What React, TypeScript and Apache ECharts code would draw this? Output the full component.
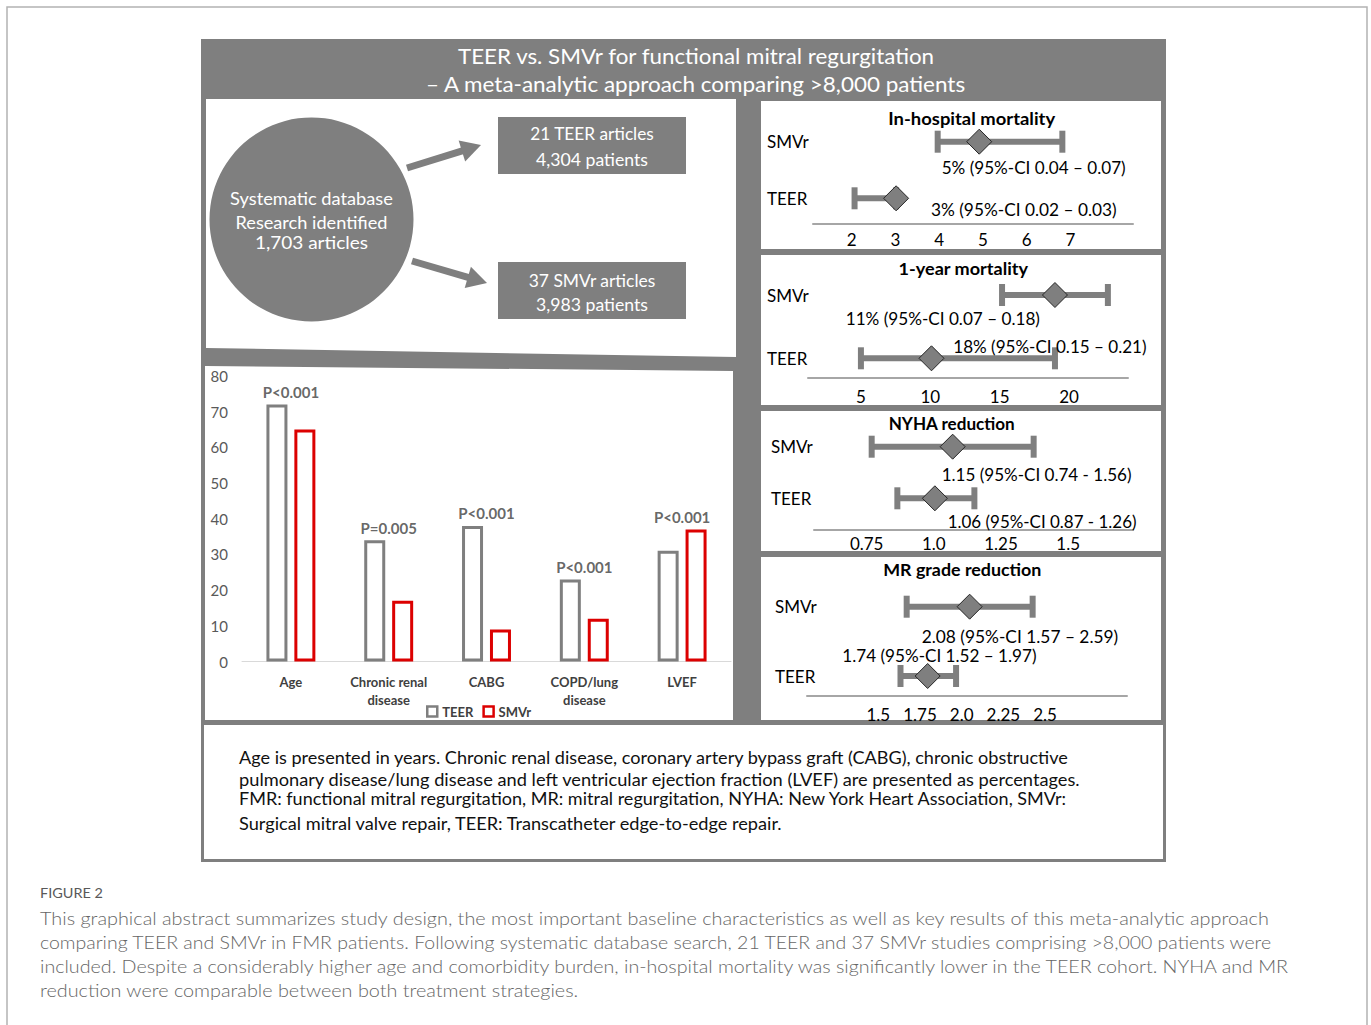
import React, { useEffect, useRef } from "react";
import * as echarts from "echarts";

const W = 1371;
const H = 1025;
const FONT = "Lato, 'Open Sans', sans-serif";
const GRAY = "#7f7f7f";
const RED = "#dc0000";

// Baseline characteristics (years for age, percentages otherwise)
const CATEGORIES = ["Age", "Chronic renal\ndisease", "CABG", "COPD/lung\ndisease", "LVEF"];
const TEER_BASELINE = [72, 34, 38, 23, 31];
const SMVR_BASELINE = [65, 17, 9, 12, 37];
const P_VALUES = ["P<0.001", "P=0.005", "P<0.001", "P<0.001", "P<0.001"];
const BAR_Y_MAX = 80;
const BAR_Y_STEP = 10;

// Pooled outcomes: [estimate, lower 95%-CI, upper 95%-CI]
const ROWS = ["TEER", "SMVr"];
const INHOSP_SMVR = [5, 4, 7];
const INHOSP_TEER = [3, 2, 3];
const INHOSP_TICKS = ["2", "3", "4", "5", "6", "7"];
const YEAR1_SMVR = [18, 15, 21];
const YEAR1_TEER = [11, 7, 18];
const YEAR1_TICKS = ["5", "10", "15", "20"];
const NYHA_SMVR = [1.15, 0.74, 1.56];
const NYHA_TEER = [1.06, 0.87, 1.26];
const NYHA_TICKS = ["0.75", "1.0", "1.25", "1.5"];
const MR_SMVR = [2.08, 1.57, 2.59];
const MR_TEER = [1.74, 1.52, 1.97];
const MR_TICKS = ["1.5", "1.75", "2.0", "2.25", "2.5"];

const NOTE_LINES = [
  "Age is presented in years. Chronic renal disease, coronary artery bypass graft (CABG), chronic obstructive",
  "pulmonary disease/lung disease and left ventricular ejection fraction (LVEF) are presented as percentages.",
  "FMR: functional mitral regurgitation, MR: mitral regurgitation, NYHA: New York Heart Association, SMVr:",
  "Surgical mitral valve repair, TEER: Transcatheter edge-to-edge repair.",
];
const CAPTION_LINES = [
  "This graphical abstract summarizes study design, the most important baseline characteristics as well as key results of this meta-analytic approach",
  "comparing TEER and SMVr in FMR patients. Following systematic database search, 21 TEER and 37 SMVr studies comprising >8,000 patients were",
  "included. Despite a considerably higher age and comorbidity burden, in-hospital mortality was significantly lower in the TEER cohort. NYHA and MR",
  "reduction were comparable between both treatment strategies.",
];

const pctText = (v: number[]) =>
  `${v[0]}% (95%-CI ${(v[1] / 100).toFixed(2)} – ${(v[2] / 100).toFixed(2)})`;
const hyphenText = (v: number[]) =>
  `${v[0].toFixed(2)} (95%-CI ${v[1].toFixed(2)} - ${v[2].toFixed(2)})`;
const dashText = (v: number[]) =>
  `${v[0].toFixed(2)} (95%-CI ${v[1].toFixed(2)} – ${v[2].toFixed(2)})`;

// Forest panel layout
const PANELS = [
  {
    title: "In-hospital mortality", smvr: INHOSP_SMVR, teer: INHOSP_TEER, ticks: INHOSP_TICKS, fmt: pctText,
    left: 813, right: 1133, top: 110, axisY: 224, ySMVr: 141.7, yTEER: 198.3,
    tickRange: [1.118, 8.43], dataRange: [1.0, 8.7], tickMargin: 7, rowLabelX: 767,
    titlePos: [971.7, 118.3, 167], smvrTextPos: [941.7, 168, 184], teerTextPos: [931, 209.5, 185.7],
  },
  {
    title: "1-year mortality", smvr: YEAR1_SMVR, teer: YEAR1_TEER, ticks: YEAR1_TICKS, fmt: pctText,
    left: 808, right: 1128, top: 265, axisY: 377.7, ySMVr: 295, yTEER: 358.3,
    tickRange: [1.18, 24.25], dataRange: [4.0, 22.14], tickMargin: 10, rowLabelX: 767,
    titlePos: [963.3, 268.3, 130], smvrTextPos: [953.3, 346.7, 193.4], teerTextPos: [845.7, 318.3, 194.3],
  },
  {
    title: "NYHA reduction", smvr: NYHA_SMVR, teer: NYHA_TEER, ticks: NYHA_TICKS, fmt: hyphenText,
    left: 814, right: 1133, top: 420, axisY: 529.3, ySMVr: 446.7, yTEER: 498.3,
    tickRange: [0.554, 1.741], dataRange: [0.448, 2.063], tickMargin: 6, rowLabelX: 771,
    titlePos: [951.7, 423.3, 126.7], smvrTextPos: [941.7, 475, 190], teerTextPos: [947.7, 521, 189],
  },
  {
    title: "MR grade reduction", smvr: MR_SMVR, teer: MR_TEER, ticks: MR_TICKS, fmt: dashText,
    left: 807, right: 1127, top: 580, axisY: 696, ySMVr: 606.7, yTEER: 676,
    tickRange: [1.072, 2.992], dataRange: [0.763, 3.354], tickMargin: 10, rowLabelX: 775,
    titlePos: [962.3, 570, 158.3], smvrTextPos: [921.7, 636.7, 196.6], teerTextPos: [842.3, 656, 194.4],
  },
];

let measureCtx: CanvasRenderingContext2D | null = null;
function fitScale(text: string, font: string, target: number) {
  if (!measureCtx) measureCtx = document.createElement("canvas").getContext("2d");
  if (!measureCtx) return 1;
  measureCtx.font = font;
  const w = measureCtx.measureText(text).width;
  return w > 0 ? target / w : 1;
}

function label(text: string, x: number, y: number, size: number, opts: any = {}) {
  const weight = opts.weight ?? "normal";
  const font = `${weight} ${size}px ${FONT}`;
  const sx = opts.width ? fitScale(text, font, opts.width) : 1;
  const align = opts.align ?? "left";
  return {
    type: "text", x, y, scaleX: sx, z: 20, silent: true,
    style: {
      text, font, fill: opts.color ?? "#000",
      textAlign: align, textVerticalAlign: "middle", align, verticalAlign: "middle",
    },
  };
}

function arrow(x1: number, y1: number, x2: number, y2: number) {
  const dx = x2 - x1, dy = y2 - y1;
  const len = Math.hypot(dx, dy);
  const ux = dx / len, uy = dy / len;
  const head = 20, half = 11;
  const bx = x2 - ux * head, by = y2 - uy * head;
  return [
    { type: "line", z: 10, shape: { x1, y1, x2: bx + ux * 2, y2: by + uy * 2 }, style: { stroke: GRAY, lineWidth: 7 } },
    {
      type: "polygon", z: 10,
      shape: { points: [[x2, y2], [bx - uy * half, by + ux * half], [bx + uy * half, by - ux * half]] },
      style: { fill: GRAY },
    },
  ];
}

function errorBar(_params: any, api: any) {
  const a = api.coord([api.value(0), api.value(2)]);
  const b = api.coord([api.value(1), api.value(2)]);
  const st = { stroke: GRAY, lineWidth: 6 };
  return {
    type: "group",
    children: [
      { type: "line", shape: { x1: a[0], y1: a[1], x2: b[0], y2: b[1] }, style: st },
      { type: "line", shape: { x1: a[0], y1: a[1] - 11, x2: a[0], y2: a[1] + 11 }, style: st },
      { type: "line", shape: { x1: b[0], y1: b[1] - 11, x2: b[0], y2: b[1] + 11 }, style: st },
    ],
  };
}

function buildOption() {
  const grids: any[] = [{ left: 242, top: 376, width: 489, height: 285.5 }];
  const xAxes: any[] = [
    {
      type: "category", gridIndex: 0, data: CATEGORIES,
      axisTick: { show: false },
      axisLine: { lineStyle: { color: "#d9d9d9", width: 1 } },
      axisLabel: { interval: 0, fontSize: 13, fontWeight: "bold", color: "#404040", margin: 11, lineHeight: 18, fontFamily: FONT },
    },
  ];
  const yAxes: any[] = [
    {
      type: "value", gridIndex: 0, min: 0, max: BAR_Y_MAX, interval: BAR_Y_STEP,
      axisLine: { show: false }, axisTick: { show: false }, splitLine: { show: false },
      axisLabel: { fontSize: 15, color: "#595959", margin: 14, fontFamily: FONT },
    },
  ];
  const series: any[] = [
    {
      name: "TEER", type: "bar", xAxisIndex: 0, yAxisIndex: 0, data: TEER_BASELINE,
      barWidth: 21, barGap: "33%",
      itemStyle: { color: "#fff", borderColor: GRAY, borderWidth: 3 },
    },
    {
      name: "SMVr", type: "bar", xAxisIndex: 0, yAxisIndex: 0, data: SMVR_BASELINE,
      barWidth: 21, barGap: "33%",
      itemStyle: { color: "#fff", borderColor: RED, borderWidth: 3 },
    },
    {
      type: "scatter", xAxisIndex: 0, yAxisIndex: 0, symbolSize: 0, silent: true, z: 5,
      data: CATEGORIES.map((_, i) => [i, Math.max(TEER_BASELINE[i], SMVR_BASELINE[i])]),
      label: {
        show: true, position: "top", distance: 5,
        formatter: (p: any) => P_VALUES[p.dataIndex],
        fontSize: 15, fontWeight: "bold", color: "#404040", fontFamily: FONT,
      },
    },
  ];

  PANELS.forEach((p, k) => {
    const g = k + 1;
    grids.push({ left: p.left, top: p.top, width: p.right - p.left, height: p.axisY - p.top });
    xAxes.push({
      type: "value", gridIndex: g, min: p.tickRange[0], max: p.tickRange[1],
      axisLine: { show: true, lineStyle: { color: "#a6a6a6", width: 2 } },
      axisTick: { show: false }, splitLine: { show: false },
      axisLabel: {
        customValues: p.ticks.map(Number),
        formatter: (v: number) => p.ticks.find((t) => Math.abs(Number(t) - v) < 1e-9) ?? "",
        fontSize: 17, color: "#000", margin: p.tickMargin, fontFamily: FONT,
      },
    });
    const dataIdx = xAxes.length;
    xAxes.push({ type: "value", gridIndex: g, show: false, min: p.dataRange[0], max: p.dataRange[1] });
    const unit = p.yTEER - p.ySMVr;
    yAxes.push({
      type: "value", gridIndex: g,
      min: 1 - (p.axisY - p.yTEER) / unit, max: 2 + (p.ySMVr - p.top) / unit,
      axisLine: { show: false }, axisTick: { show: false }, splitLine: { show: false },
      axisLabel: {
        customValues: [1, 2],
        formatter: (v: number) => ROWS[Math.round(v) - 1],
        align: "left", margin: p.left - p.rowLabelX, fontSize: 17, color: "#000", fontFamily: FONT,
      },
    });
    series.push({
      type: "custom", xAxisIndex: dataIdx, yAxisIndex: g, silent: true, z: 3,
      renderItem: errorBar,
      encode: { x: [0, 1], y: 2 },
      data: [[p.teer[1], p.teer[2], 1], [p.smvr[1], p.smvr[2], 2]],
    });
    series.push({
      type: "scatter", xAxisIndex: dataIdx, yAxisIndex: g, silent: true, z: 4,
      symbol: "diamond", symbolSize: 25,
      itemStyle: { color: GRAY, borderColor: "#262626", borderWidth: 1, opacity: 1 },
      data: [[p.teer[0], 1], [p.smvr[0], 2]],
    });
  });

  const bg = (el: any) => ({ ...el, z: -10, silent: true });
  const graphics: any[] = [
    bg({ type: "rect", shape: { x: 7, y: 7, width: 1360, height: 1040 }, style: { fill: "#fff", stroke: "#b3b3b3", lineWidth: 1.5 } }),
    bg({ type: "rect", shape: { x: 201, y: 39, width: 965, height: 823 }, style: { fill: GRAY } }),
    bg({ type: "polygon", shape: { points: [[206, 99], [736, 99], [736, 357], [206, 348]] }, style: { fill: "#fff" } }),
    bg({ type: "polygon", shape: { points: [[205, 366], [733, 371], [733, 720], [205, 720]] }, style: { fill: "#fff" } }),
    bg({ type: "rect", shape: { x: 761, y: 101, width: 400, height: 148 }, style: { fill: "#fff" } }),
    bg({ type: "rect", shape: { x: 761, y: 255, width: 400, height: 150 }, style: { fill: "#fff" } }),
    bg({ type: "rect", shape: { x: 761, y: 411, width: 400, height: 140 }, style: { fill: "#fff" } }),
    bg({ type: "rect", shape: { x: 761, y: 557, width: 400, height: 163 }, style: { fill: "#fff" } }),
    bg({ type: "rect", shape: { x: 204, y: 725, width: 959, height: 134 }, style: { fill: "#fff" } }),
    // gray band that trims the NYHA tick labels
    { type: "rect", z: 30, silent: true, shape: { x: 761, y: 551, width: 400, height: 6 }, style: { fill: GRAY } },

    label("TEER vs. SMVr for functional mitral regurgitation", 696, 56, 22, { color: "#fff", align: "center", width: 478 }),
    label("– A meta-analytic approach comparing >8,000 patients", 695.5, 84, 22, { color: "#fff", align: "center", width: 541 }),

    { type: "circle", z: 10, silent: true, shape: { cx: 311.5, cy: 219.5, r: 102 }, style: { fill: GRAY } },
    label("Systematic database", 311.5, 198.3, 18, { color: "#fff", align: "center", width: 163 }),
    label("Research identified", 311.5, 221.7, 18, { color: "#fff", align: "center", width: 152 }),
    label("1,703 articles", 311.5, 241.7, 18, { color: "#fff", align: "center", width: 113 }),

    { type: "rect", z: 10, silent: true, shape: { x: 498, y: 117, width: 188, height: 57 }, style: { fill: GRAY } },
    { type: "rect", z: 10, silent: true, shape: { x: 498, y: 262, width: 188, height: 57 }, style: { fill: GRAY } },
    label("21 TEER articles", 592, 134, 17, { color: "#fff", align: "center", width: 124 }),
    label("4,304 patients", 592, 159.5, 17, { color: "#fff", align: "center", width: 112 }),
    label("37 SMVr articles", 592, 280.5, 17, { color: "#fff", align: "center", width: 127 }),
    label("3,983 patients", 592, 305, 17, { color: "#fff", align: "center", width: 112 }),
    ...arrow(407, 168, 481, 145),
    ...arrow(412, 261, 487, 283),
  ];

  PANELS.forEach((p) => {
    graphics.push(label(p.title, p.titlePos[0], p.titlePos[1], 17, { weight: "bold", align: "center", width: p.titlePos[2] }));
    graphics.push(label(p.fmt(p.smvr), p.smvrTextPos[0], p.smvrTextPos[1], 17, { width: p.smvrTextPos[2] }));
    graphics.push(label(p.fmt(p.teer), p.teerTextPos[0], p.teerTextPos[1], 17, { width: p.teerTextPos[2] }));
  });

  const noteY = [756.7, 779, 798.3, 823.3];
  const noteW = [831, 842, 829, 545];
  NOTE_LINES.forEach((t, i) => graphics.push(label(t, 239, noteY[i], 18, { width: noteW[i], color: "#111" })));

  graphics.push(label("FIGURE 2", 40, 893, 13, { width: 63, color: "#595959" }));
  const capY = [918, 942, 966, 990];
  const capW = [1231, 1234, 1253, 539];
  CAPTION_LINES.forEach((t, i) => graphics.push(label(t, 40, capY[i], 18, { width: capW[i], color: "#666", weight: 300 })));

  return {
    animation: false,
    backgroundColor: "#fff",
    textStyle: { fontFamily: FONT },
    grid: grids,
    xAxis: xAxes,
    yAxis: yAxes,
    legend: {
      left: 421, top: 700, itemWidth: 10, itemHeight: 10, itemGap: 9, icon: "rect", selectedMode: false,
      textStyle: { fontSize: 13, fontWeight: "bold", color: "#404040", fontFamily: FONT },
      data: [
        { name: "TEER", itemStyle: { color: "#fff", borderColor: GRAY, borderWidth: 2.5 } },
        { name: "SMVr", itemStyle: { color: "#fff", borderColor: RED, borderWidth: 2.5 } },
      ],
    },
    series,
    graphic: { elements: graphics },
  };
}

export default function App() {
  const ref = useRef<HTMLDivElement>(null);
  useEffect(() => {
    if (!ref.current) return;
    const chart = echarts.init(ref.current, null, { renderer: "svg", width: W, height: H });
    chart.setOption(buildOption() as any);
    return () => chart.dispose();
  }, []);
  return (
    <div
      ref={ref}
      style={{ position: "fixed", left: 0, top: 0, width: W, height: H, background: "#fff" }}
    />
  );
}
